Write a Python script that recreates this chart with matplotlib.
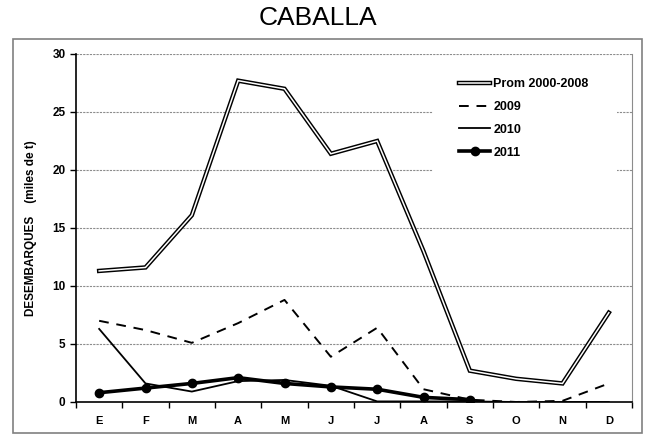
import matplotlib

matplotlib.use("Agg")

import matplotlib.pyplot as plt
from matplotlib.legend_handler import HandlerTuple
from matplotlib.patches import Rectangle


MONTHS = ["E", "F", "M", "A", "M", "J", "J", "A", "S", "O", "N", "D"]
PROM_2000_2008 = [11.3, 11.6, 16.1, 27.7, 27.0, 21.4, 22.5, 13.0, 2.7, 2.0, 1.6, 7.7]
Y2009 = [7.0, 6.2, 5.1, 6.8, 8.8, 3.9, 6.4, 1.1, 0.2, 0.0, 0.1, 1.6]
Y2010 = [6.3, 1.6, 0.9, 1.8, 1.9, 1.4, 0.05, 0.05, 0.05, 0.0, 0.0, 0.0]
Y2011 = [0.8, 1.2, 1.6, 2.1, 1.6, 1.3, 1.1, 0.4, 0.2]

plt.rcParams["font.family"] = ["Liberation Sans", "DejaVu Sans"]

W, H = 649, 434
fig = plt.figure(figsize=(W / 100, H / 100), dpi=100)

# outer frame of the chart
fig.patches.append(Rectangle((13 / W, 1 / H), 629 / W, 394 / H,
                             transform=fig.transFigure, fill=False,
                             edgecolor="#808080", linewidth=1.2))

fig.text(318 / W, 1 - 18 / H, "CABALLA", ha="center", va="center", fontsize=19)

ax = fig.add_axes([76 / W, 32 / H, 556 / W, 348 / H])

x = list(range(len(MONTHS)))

prom_back, = ax.plot(x, PROM_2000_2008, color="black", linewidth=3.2,
                     solid_joinstyle="miter", zorder=3)
prom_front, = ax.plot(x, PROM_2000_2008, color="white", linewidth=1.1,
                      solid_joinstyle="miter", zorder=4)
l2009, = ax.plot(x, Y2009, color="black", linewidth=1.4, dashes=(5, 4), zorder=3)
l2010, = ax.plot(x, Y2010, color="black", linewidth=1.3, zorder=3)
l2011, = ax.plot(x[:len(Y2011)], Y2011, color="black", linewidth=2.6,
                 marker="o", markersize=6, zorder=5)

ax.set_xlim(-0.5, 11.5)
ax.set_ylim(0, 30)
ax.set_yticks(range(0, 31, 5))
ax.set_xticks([i - 0.5 for i in range(13)])
ax.set_xticklabels([])
ax.set_xticks(x, minor=True)
ax.set_xticklabels(MONTHS, minor=True, fontweight="bold", fontsize=8)
ax.tick_params(axis="x", which="major", direction="out", length=4, width=1)
ax.tick_params(axis="x", which="minor", length=0, pad=10)
ax.tick_params(axis="y", direction="out", length=4, width=1, labelsize=8.5)
for lab in ax.get_yticklabels():
    lab.set_fontweight("bold")

for v in range(5, 31, 5):
    ax.axhline(v, color="#8c8c8c", linewidth=0.8, linestyle=(0, (2, 1)), zorder=1)

ax.spines["top"].set_visible(False)
ax.spines["right"].set_color("#8c8c8c")
ax.spines["left"].set_linewidth(1.2)
ax.spines["bottom"].set_linewidth(1.2)

ax.set_ylabel("DESEMBARQUES    (miles de t)", fontsize=8.5, fontweight="bold",
              labelpad=11)

# white area behind the legend, cutting the gridline like the original
ax.add_patch(Rectangle((0.642, 0.66), 0.331, 0.305, transform=ax.transAxes,
                       facecolor="white", edgecolor="none", zorder=2))

handles = [(prom_back, prom_front), l2009, l2010, l2011]
labels = ["Prom 2000-2008", "2009", "2010", "2011"]
leg = ax.legend(handles, labels, loc="upper left",
                bbox_to_anchor=(0.689, 0.931),
                handler_map={tuple: HandlerTuple(ndivide=1, pad=0)},
                frameon=False, prop={"weight": "bold", "size": 9},
                handlelength=2.5, handletextpad=0.25, labelspacing=0.87,
                borderpad=0, borderaxespad=0)
leg.set_zorder(6)

fig.savefig("out.png", dpi=100)
plt.close(fig)
